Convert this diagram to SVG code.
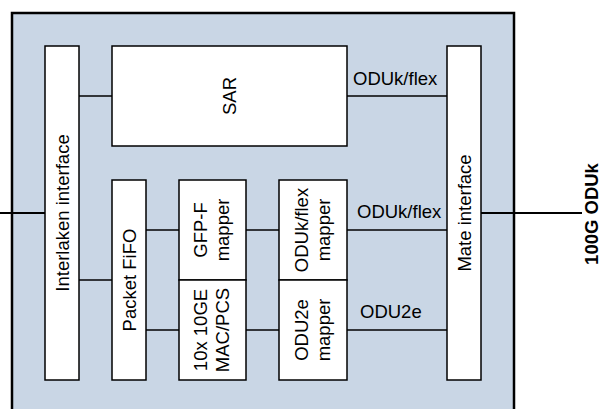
<svg xmlns="http://www.w3.org/2000/svg" width="602" height="409" viewBox="0 0 602 409">
<style>
.box{fill:#fff;stroke:#000;stroke-width:1.5}
.t{font-family:"Liberation Sans",Arial,sans-serif;font-size:18.5px;fill:#000}
.c{stroke:#000;stroke-width:1.5;fill:none}
.ext{stroke:#000;stroke-width:2;fill:none}
</style>
<rect x="12" y="13" width="502" height="420" fill="#c9d6e5" stroke="#000" stroke-width="2.5"/>
<g id="connectors">
<line class="ext" x1="0" y1="213" x2="45" y2="213"/>
<line class="ext" x1="481" y1="213" x2="582" y2="213"/>
<line class="c" x1="79" y1="96" x2="112" y2="96"/>
<line class="c" x1="347" y1="96" x2="447" y2="96"/>
<line class="c" x1="79" y1="280" x2="112" y2="280"/>
<line class="c" x1="146" y1="230" x2="179" y2="230"/>
<line class="c" x1="146" y1="330" x2="179" y2="330"/>
<line class="c" x1="246" y1="230" x2="279" y2="230"/>
<line class="c" x1="246" y1="330" x2="279" y2="330"/>
<line class="c" x1="347" y1="230" x2="447" y2="230"/>
<line class="c" x1="347" y1="330" x2="447" y2="330"/>
<text class="t" x="353" y="85">ODUk/flex</text>
<text class="t" x="357" y="218">ODUk/flex</text>
<text class="t" x="360" y="318">ODU2e</text>
</g>
<g id="interlaken">
<rect class="box" x="45" y="46" width="34" height="334"/>
<text class="t" text-anchor="middle" transform="translate(69,213) rotate(-90)">Interlaken interface</text>
</g>
<g id="sar">
<rect class="box" x="112" y="46" width="235" height="100"/>
<text class="t" text-anchor="middle" transform="translate(236,96) rotate(-90)">SAR</text>
</g>
<g id="mate">
<rect class="box" x="447" y="46" width="34" height="334"/>
<text class="t" text-anchor="middle" transform="translate(471,213) rotate(-90)">Mate interface</text>
</g>
<g id="fifo">
<rect class="box" x="112" y="180" width="34" height="200"/>
<text class="t" text-anchor="middle" transform="translate(136,280) rotate(-90)">Packet FiFO</text>
</g>
<g id="gfp">
<rect class="box" x="179" y="180" width="67" height="100"/>
<text class="t" text-anchor="middle" transform="translate(207,230) rotate(-90)">GFP-F</text>
<text class="t" text-anchor="middle" transform="translate(229,230) rotate(-90)">mapper</text>
</g>
<g id="mac">
<rect class="box" x="179" y="280" width="67" height="100"/>
<text class="t" text-anchor="middle" transform="translate(207,330) rotate(-90)">10x 10GE</text>
<text class="t" text-anchor="middle" transform="translate(229,330) rotate(-90)">MAC/PCS</text>
</g>
<g id="oduflex">
<rect class="box" x="279" y="180" width="68" height="100"/>
<text class="t" text-anchor="middle" transform="translate(307.5,230) rotate(-90)">ODUk/flex</text>
<text class="t" text-anchor="middle" transform="translate(329.5,230) rotate(-90)">mapper</text>
</g>
<g id="odu2e">
<rect class="box" x="279" y="280" width="68" height="100"/>
<text class="t" text-anchor="middle" transform="translate(307.5,330) rotate(-90)">ODU2e</text>
<text class="t" text-anchor="middle" transform="translate(329.5,330) rotate(-90)">mapper</text>
</g>
<g id="label-100g">
<text class="t" font-weight="bold" text-anchor="middle" transform="translate(598,214) rotate(-90)">100G ODUk</text>
</g>
</svg>
